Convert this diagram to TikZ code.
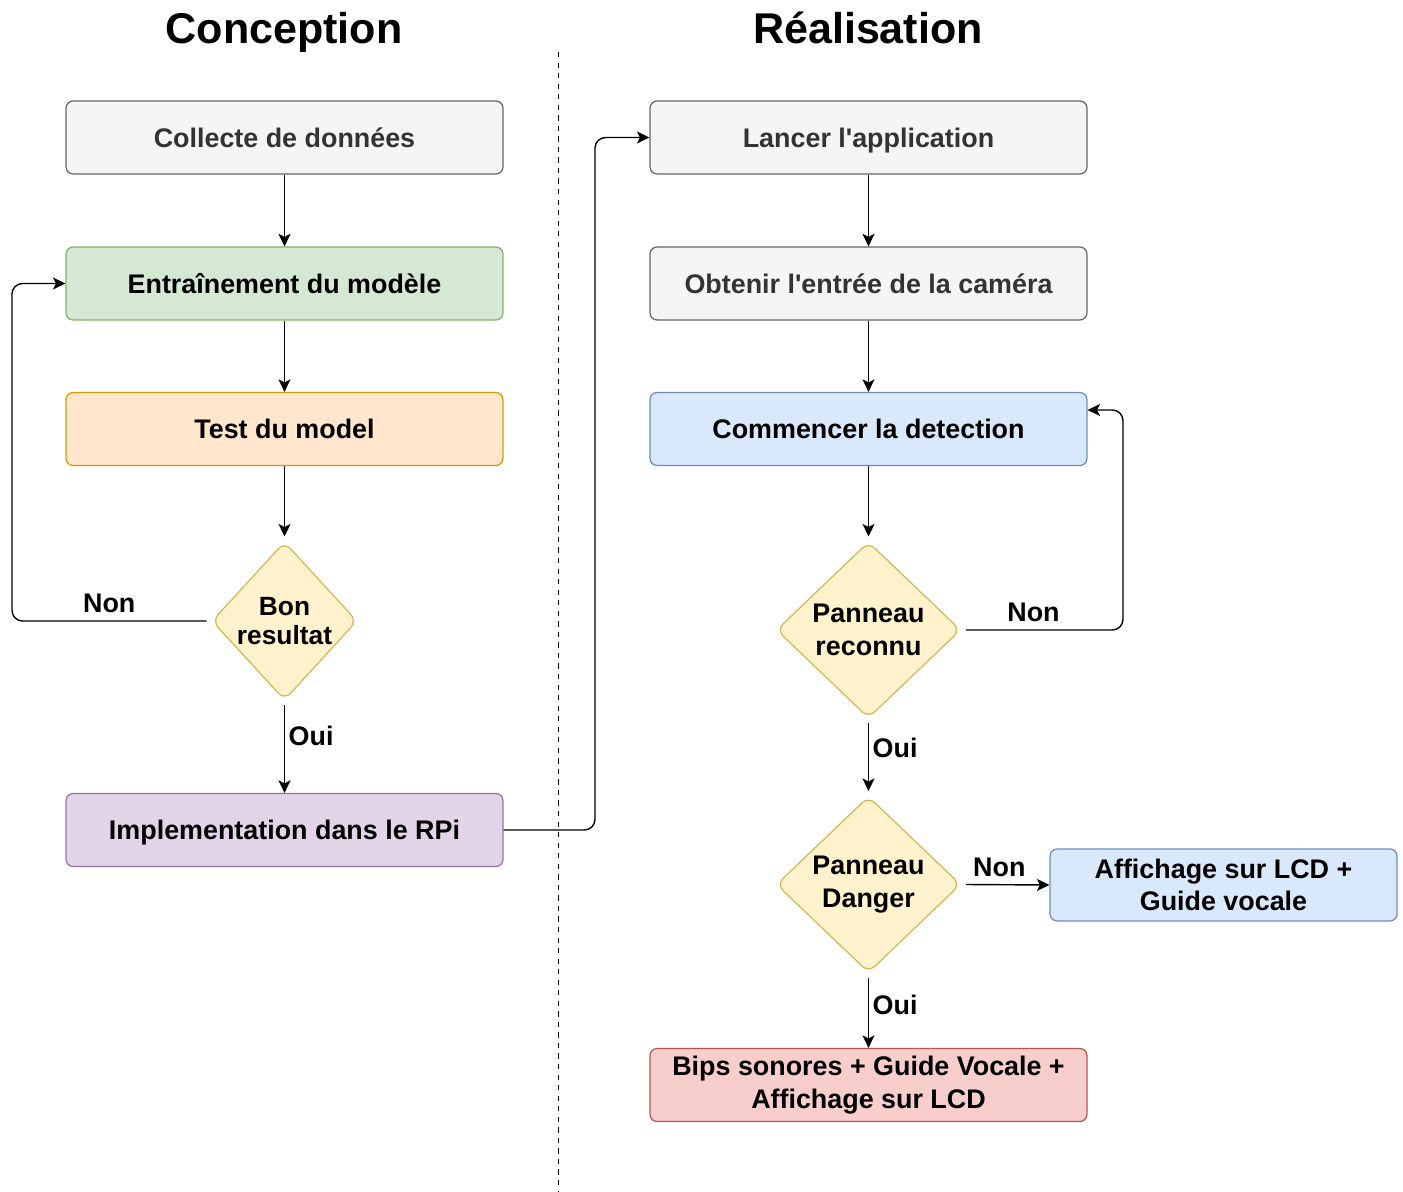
\documentclass[tikz,border=0pt]{standalone}
\usepackage{fontspec}
\setmainfont{Liberation Sans}
\newfontfamily\lib{Liberation Sans}
\usetikzlibrary{shapes.geometric,arrows.meta}
\definecolor{gfill}{HTML}{F5F5F5}\definecolor{gline}{HTML}{666666}\definecolor{gtext}{HTML}{333333}
\definecolor{grfill}{HTML}{D5E8D4}\definecolor{grline}{HTML}{82B366}
\definecolor{ofill}{HTML}{FFE6CC}\definecolor{oline}{HTML}{D79B00}
\definecolor{yfill}{HTML}{FFF2CC}\definecolor{yline}{HTML}{D6B656}
\definecolor{pfill}{HTML}{E1D5E7}\definecolor{pline}{HTML}{9673A6}
\definecolor{bfill}{HTML}{DAE8FC}\definecolor{bline}{HTML}{6C8EBF}
\definecolor{rfill}{HTML}{F8CECC}\definecolor{rline}{HTML}{B85450}
\tikzset{
  txt/.style={font=\lib\fontsize{15.3pt}{18.6pt}\selectfont\bfseries, align=center},
  txts/.style={font=\lib\fontsize{15pt}{16.6pt}\selectfont\bfseries, align=center},
  box/.style={txt, draw, line width=0.7pt, rounded corners=4pt, minimum width=8.74cm, minimum height=1.46cm, inner sep=0pt},
  one/.style={text height=11pt, text depth=0pt},
  dia/.style={diamond, draw=yline, fill=yfill, line width=0.7pt, rounded corners=5pt, inner sep=0pt, outer sep=0.08cm},
  arr/.style={line width=0.8pt, -{Stealth[length=0.25cm,width=0.24cm,inset=0.06cm]}, rounded corners=6pt},
  lbl/.style={txt, inner sep=2pt},
  title/.style={font=\lib\fontsize{24.5pt}{28pt}\selectfont\bfseries, anchor=base}
}
\begin{document}
\begin{tikzpicture}[x=0.02cm,y=-0.02cm]
\useasboundingbox (0,0) rectangle (1403,1192);
\node[title] (t1) at (284,44) {Conception};
\node[title] (t2) at (868,44) {Réalisation};
\coordinate (d1) at (558,52);
\coordinate (d2) at (558,1192);
\draw[dashed, line width=0.5pt] (d1) -- (d2);

% left column
\node[box, one, draw=gline, fill=gfill, text=gtext] (coll) at (284.5,137.5) {Collecte de données};
\node[box, one, draw=grline, fill=grfill] (entr) at (284.5,283.5) {Entraînement du modèle};
\node[box, one, draw=oline, fill=ofill] (test) at (284.5,429) {Test du model};
\node[dia, minimum width=2.96cm, minimum height=3.22cm, label={[txts]center:Bon\\resultat}] (bon) at (284.5,621) {};
\node[box, one, draw=pline, fill=pfill] (impl) at (284.5,830) {Implementation dans le RPi};

% right column
\node[box, one, draw=gline, fill=gfill, text=gtext] (lanc) at (868.5,137.5) {Lancer l'application};
\node[box, one, draw=gline, fill=gfill, text=gtext] (obt) at (868.5,283.5) {Obtenir l'entrée de la caméra};
\node[box, one, draw=bline, fill=bfill] (comm) at (868.5,429) {Commencer la detection};
\node[dia, minimum width=3.74cm, minimum height=3.58cm, label={[txt]center:Panneau\\reconnu}] (pr) at (868.5,630) {};
\node[dia, minimum width=3.74cm, minimum height=3.58cm, label={[txt]center:Panneau\\Danger}] (pd) at (868.5,884.5) {};
\node[box, draw=bline, fill=bfill, minimum width=6.94cm, minimum height=1.44cm] (aff) at (1223.5,885) {Affichage sur LCD +\\Guide vocale};
\node[box, draw=rline, fill=rfill] (bips) at (868.5,1085) {Bips sonores + Guide Vocale +\\Affichage sur LCD};

\coordinate (lx) at (12,0);
\coordinate (mx) at (595,0);
\coordinate (rx) at (1123,0);
\coordinate (ry) at (0,410);

% connectors
\draw[arr] (coll) -- (entr);
\draw[arr] (entr) -- (test);
\draw[arr] (test) -- (bon);
\draw[arr] (bon.west) -- node[lbl, above, pos=0.5, yshift=0.08cm]{Non} (bon.west -| lx) |- (entr.west);
\draw[arr] (bon) -- node[lbl, right, pos=0.35]{Oui} (impl);
\draw[arr] (impl.east) -| (mx |- lanc.west) -- (lanc.west);
\draw[arr] (lanc) -- (obt);
\draw[arr] (obt) -- (comm);
\draw[arr] (comm) -- (pr);
\draw[arr] (pr.east) -- node[lbl, above, pos=0.43, yshift=0.08cm]{Non} (pr.east -| rx) |- (comm.east |- ry);
\draw[arr] (pr) -- node[lbl, right, pos=0.36]{Oui} (pd);
\draw[arr] (pd.east) -- node[lbl, above, pos=0.4, yshift=0.08cm]{Non} (aff.west);
\draw[arr] (pd) -- node[lbl, right, pos=0.38]{Oui} (bips);
\end{tikzpicture}
\end{document}
